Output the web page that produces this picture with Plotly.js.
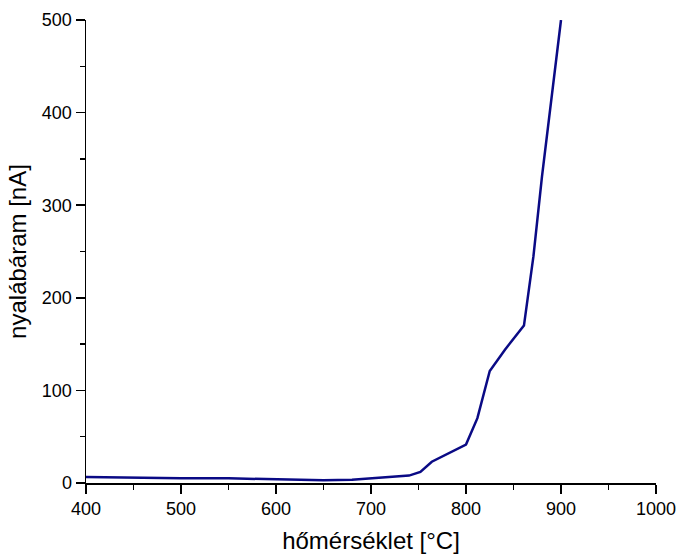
<!DOCTYPE html>
<html>
<head>
<meta charset="utf-8">
<script src="https://cdn.plot.ly/plotly-3.0.1.min.js"></script>
<style>html,body{margin:0;padding:0;background:#fff;}#chart{width:680px;height:554px;}</style>
</head>
<body>
<div id="chart"></div>
<script>
const temperature = [400, 450, 500, 550, 600, 650, 680, 700, 720, 740, 752, 764, 800, 812, 825, 841, 861, 871, 880, 890, 900];
const current = [6.5, 5.5, 5, 5, 4, 3, 3.5, 5, 6.5, 8, 12, 23, 41.5, 70, 121, 144, 170, 245, 331, 415, 500];
const xTitle = 'hőmérséklet [°C]';
const yTitle = 'nyalábáram [nA]';

const trace = {
  x: temperature, y: current, type: 'scatter', mode: 'lines',
  line: {color: '#0a0a85', width: 2.5}, cliponaxis: false, showlegend: false
};
const fam = 'Liberation Sans, Arial, sans-serif';
const axisCommon = {
  showgrid: false, zeroline: false, showline: true, linecolor: '#000', linewidth: 1.5,
  ticks: 'outside', ticklen: 9, tickwidth: 1.5, tickcolor: '#000',
  tickfont: {family: fam, size: 18, color: '#000'}
};
const layout = {
  width: 680, height: 554,
  margin: {l: 86, r: 24, t: 20, b: 71},
  paper_bgcolor: '#fff', plot_bgcolor: '#fff',
  xaxis: Object.assign({}, axisCommon, {
    range: [400, 1000], dtick: 100, tick0: 400,
    minor: {ticks: 'outside', ticklen: 5, dtick: 50, tickwidth: 1.5, tickcolor: '#000'},
    title: {text: xTitle, standoff: 14, font: {family: fam, size: 24, color: '#000'}}
  }),
  yaxis: Object.assign({}, axisCommon, {
    range: [0, 500], dtick: 100, tick0: 0,
    minor: {ticks: 'outside', ticklen: 5, dtick: 50, tickwidth: 1.5, tickcolor: '#000'},
    title: {text: yTitle, standoff: 8, font: {family: fam, size: 24, color: '#000'}}
  })
};
Plotly.newPlot('chart', [trace], layout, {displayModeBar: false, staticPlot: true});
</script>
</body>
</html>
